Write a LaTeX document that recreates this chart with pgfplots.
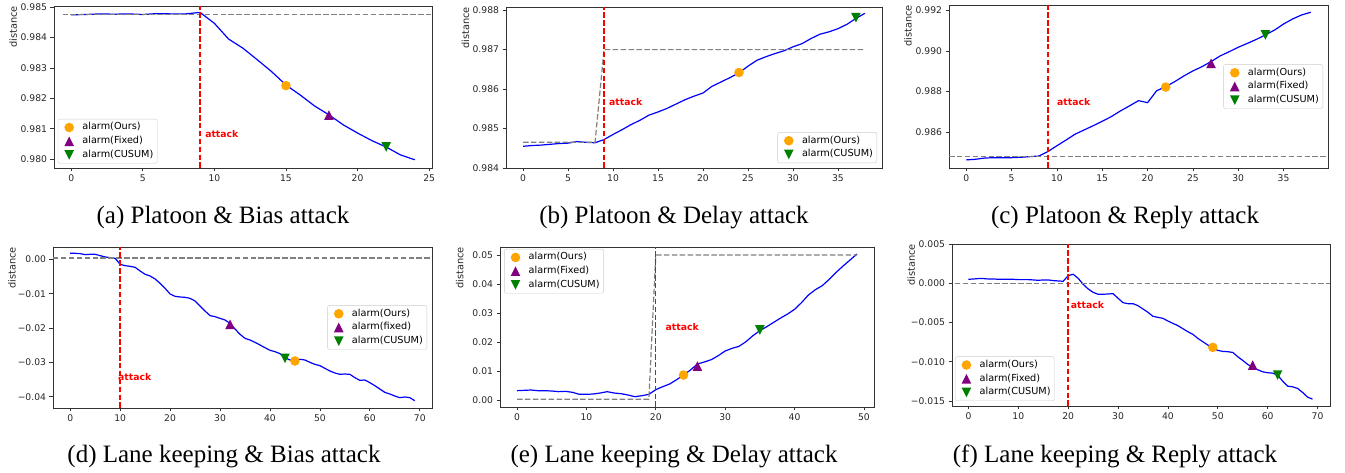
\documentclass[border=0pt]{standalone}
\usepackage{pgfplots}
\pgfplotsset{compat=1.18}
\usepackage{fontspec}
\setmainfont{Liberation Serif}
\newfontfamily\dv{DejaVu Sans}

\definecolor{mplorange}{HTML}{FFA500}
\definecolor{mplpurple}{HTML}{800080}
\definecolor{mplgreen}{HTML}{008000}
\definecolor{mplgray}{HTML}{808080}

\pgfdeclareplotmark{mdot}{\pgfpathcircle{\pgfpointorigin}{\pgfplotmarksize}\pgfusepathqfill}
\pgfdeclareplotmark{mup}{\pgfpathmoveto{\pgfqpoint{0pt}{\pgfplotmarksize}}\pgfpathlineto{\pgfqpoint{-\pgfplotmarksize}{-\pgfplotmarksize}}\pgfpathlineto{\pgfqpoint{\pgfplotmarksize}{-\pgfplotmarksize}}\pgfpathclose\pgfusepathqfill}
\pgfdeclareplotmark{mdown}{\pgfpathmoveto{\pgfqpoint{0pt}{-\pgfplotmarksize}}\pgfpathlineto{\pgfqpoint{-\pgfplotmarksize}{\pgfplotmarksize}}\pgfpathlineto{\pgfqpoint{\pgfplotmarksize}{\pgfplotmarksize}}\pgfpathclose\pgfusepathqfill}

\pgfplotsset{
  panel/.style={
    scale only axis, anchor=south west, clip=true,
    scaled y ticks=false, scaled x ticks=false,
    axis line style={black!80, line width=0.8pt},
    every tick/.style={black!80, line width=0.8pt},
    tick align=outside, major tick length=3.5pt, tick pos=left,
    minor tick num=0,
    ticklabel style={font=\dv\fontsize{9.2}{11}\selectfont, text=black!85},
    ylabel={distance},
    ylabel style={font=\dv\fontsize{9.8}{11}\selectfont, text=black!85, at={(rel axis cs:-0.108,1)}, anchor=east, inner sep=0pt},
    legend cell align=left,
    legend image code/.code={\path (0pt,0pt) (20pt,0pt); \draw[sharp corners,##1] plot coordinates {(9pt,0pt)};},
    legend style={font=\dv\fontsize{9.7}{11}\selectfont, draw=black!20, rounded corners=2pt, fill=white,
      inner xsep=2pt, inner ysep=1.5pt, row sep=0pt,
      nodes={inner sep=2pt, text height=7.3pt, text depth=2.4pt}},
  },
  ours/.style={only marks, mark=mdot, mark size=4.8pt, color=mplorange},
  fixed/.style={only marks, mark=mup, mark size=4.8pt, color=mplpurple},
  cusum/.style={only marks, mark=mdown, mark size=4.8pt, color=mplgreen},
  curve/.style={blue, line width=1.2pt, no marks, forget plot},
  thr/.style={mplgray, line width=1.2pt, dash pattern=on 5.5pt off 2.4pt, no marks, forget plot},
  atk/.style={red, line width=1.4pt, dash pattern=on 5.5pt off 2.4pt, no marks, forget plot},
}
\tikzset{atktext/.style={text=red, font=\dv\bfseries\fontsize{9.3}{11}\selectfont, anchor=west, inner sep=0pt}}

\begin{document}
\begin{tikzpicture}
% (a)
\begin{axis}[panel, at={(54pt,305pt)}, width=378pt, height=162pt,
  xmin=-1.2, xmax=25.2, ymin=0.97971, ymax=0.98504,
  xtick={0,5,10,15,20,25}, xticklabels={0,5,10,15,20,25},
  ytick={0.980,0.981,0.982,0.983,0.984,0.985}, yticklabels={0.980,0.981,0.982,0.983,0.984,0.985},
  legend style={at={(0.01,0.028)}, anchor=south west}]
\addplot[ours] coordinates {(15,0.98242)}; \addlegendentry{alarm(Ours)}
\addplot[fixed] coordinates {(18,0.98145)}; \addlegendentry{alarm(Fixed)}
\addplot[cusum] coordinates {(22,0.98040)}; \addlegendentry{alarm(CUSUM)}
\addplot[curve] coordinates {(0,0.98475)(1,0.98476)(2,0.98478)(3,0.98477)(4,0.98478)(5,0.98476)(6,0.98479)(7,0.98478)(8,0.98478)(9,0.98483)(10,0.98447)(11,0.98395)(12,0.98365)(13,0.98327)(14,0.98288)(15,0.98244)(16,0.98211)(17,0.98175)(18,0.98146)(19,0.98113)(20,0.98086)(21,0.98061)(22,0.98040)(23,0.98014)(24,0.97998)};
\addplot[thr] coordinates {(-0.6,0.98475) (25.2,0.98475)};
\addplot[atk] coordinates {(9,0.97971) (9,0.98504)};
\node[atktext] at (axis cs:9.35,0.98083) {attack};
\end{axis}
% (b)
\begin{axis}[panel, at={(506pt,305pt)}, width=376pt, height=161pt,
  xmin=-1.9, xmax=39.9, ymin=0.984, ymax=0.98808,
  xtick={0,5,10,15,20,25,30,35}, xticklabels={0,5,10,15,20,25,30,35},
  ytick={0.984,0.985,0.986,0.987,0.988}, yticklabels={0.984,0.985,0.986,0.987,0.988},
  legend style={at={(0.987,0.031)}, anchor=south east}]
\addplot[ours] coordinates {(24,0.98642)}; \addlegendentry{alarm(Ours)}
\addplot[cusum] coordinates {(37,0.98781)}; \addlegendentry{alarm(CUSUM)}
\addplot[curve] coordinates {(0,0.98455)(1,0.98457)(2,0.98458)(3,0.98460)(4,0.98462)(5,0.98463)(6,0.98467)(7,0.98465)(8,0.98464)(9,0.98472)(10,0.98485)(11,0.98497)(12,0.98510)(13,0.98521)(14,0.98534)(15,0.98542)(16,0.98551)(17,0.98562)(18,0.98573)(19,0.98582)(20,0.98590)(21,0.98607)(22,0.98618)(23,0.98629)(24,0.98641)(25,0.98658)(26,0.98673)(27,0.98682)(28,0.98690)(29,0.98697)(30,0.98707)(31,0.98715)(32,0.98728)(33,0.98739)(34,0.98745)(35,0.98753)(36,0.98764)(37,0.98779)(38,0.98792)};
\addplot[thr] coordinates {(0,0.98465)(8,0.98465)(9,0.98700)(38,0.98700)};
\addplot[atk] coordinates {(9,0.984) (9,0.98808)};
\node[atktext] at (axis cs:9.55,0.98567) {attack};
\end{axis}
% (c)
\begin{axis}[panel, at={(949pt,305pt)}, width=379pt, height=163pt,
  xmin=-1.9, xmax=39.9, ymin=0.98422, ymax=0.99228,
  xtick={0,5,10,15,20,25,30,35}, xticklabels={0,5,10,15,20,25,30,35},
  ytick={0.986,0.988,0.990,0.992}, yticklabels={0.986,0.988,0.990,0.992},
  legend style={at={(0.987,0.5)}, anchor=east}]
\addplot[ours] coordinates {(22,0.98822)}; \addlegendentry{alarm(Ours)}
\addplot[fixed] coordinates {(27,0.98940)}; \addlegendentry{alarm(Fixed)}
\addplot[cusum] coordinates {(33,0.99080)}; \addlegendentry{alarm(CUSUM)}
\addplot[curve] coordinates {(0,0.98462)(1,0.98465)(2,0.98471)(3,0.98473)(4,0.98473)(5,0.98473)(6,0.98475)(7,0.98478)(8,0.98481)(9,0.98503)(10,0.98532)(11,0.98560)(12,0.98589)(13,0.98610)(14,0.98631)(15,0.98653)(16,0.98676)(17,0.98704)(18,0.98729)(19,0.98755)(20,0.98745)(21,0.98804)(22,0.98824)(23,0.98849)(24,0.98877)(25,0.98902)(26,0.98923)(27,0.98948)(28,0.98976)(29,0.98997)(30,0.99019)(31,0.99038)(32,0.99058)(33,0.99080)(34,0.99104)(35,0.99134)(36,0.99159)(37,0.99179)(38,0.99192)};
\addplot[thr] coordinates {(-1.9,0.98480) (39.9,0.98480)};
\addplot[atk] coordinates {(9,0.98422) (9,0.99228)};
\node[atktext] at (axis cs:10.0,0.98747) {attack};
\end{axis}
% (d)
\begin{axis}[panel, at={(53pt,65pt)}, width=379pt, height=161pt,
  xmin=-3.45, xmax=72.45, ymin=-0.0433, ymax=0.00359,
  xtick={0,10,20,30,40,50,60,70}, xticklabels={0,10,20,30,40,50,60,70},
  ytick={-0.04,-0.03,-0.02,-0.01,0}, yticklabels={−0.04,−0.03,−0.02,−0.01,0.00},
  legend style={at={(0.987,0.5)}, anchor=east}]
\addplot[ours] coordinates {(45,-0.02961)}; \addlegendentry{alarm(Ours)}
\addplot[fixed] coordinates {(32,-0.01893)}; \addlegendentry{alarm(fixed)}
\addplot[cusum] coordinates {(43,-0.02883)}; \addlegendentry{alarm(CUSUM)}
\addplot[curve] coordinates {(0,0.00175)(1,0.00175)(2,0.00165)(3,0.00136)(4,0.00146)(5,0.00146)(6,0.00107)(7,0.00068)(8,0.00049)(9,0.00029)(10,-0.00146)(11,-0.00184)(12,-0.00204)(13,-0.00233)(14,-0.00340)(15,-0.00437)(16,-0.00485)(17,-0.00573)(18,-0.00699)(19,-0.00845)(20,-0.01010)(21,-0.01078)(22,-0.01097)(23,-0.01107)(24,-0.01136)(25,-0.01214)(26,-0.01359)(27,-0.01505)(28,-0.01641)(29,-0.01670)(30,-0.01718)(31,-0.01767)(32,-0.01864)(33,-0.02029)(34,-0.02184)(35,-0.02301)(36,-0.02350)(37,-0.02417)(38,-0.02495)(39,-0.02573)(40,-0.02650)(41,-0.02689)(42,-0.02748)(43,-0.02864)(44,-0.02932)(45,-0.02942)(46,-0.02913)(47,-0.02932)(48,-0.03000)(49,-0.03058)(50,-0.03097)(51,-0.03175)(52,-0.03252)(53,-0.03311)(54,-0.03350)(55,-0.03340)(56,-0.03350)(57,-0.03447)(58,-0.03524)(59,-0.03515)(60,-0.03592)(61,-0.03680)(62,-0.03777)(63,-0.03874)(64,-0.03922)(65,-0.03981)(66,-0.04029)(67,-0.04010)(68,-0.04029)(69,-0.04117)};
\addplot[thr] coordinates {(-3.45,0.00039) (72.45,0.00039)};
\addplot[atk] coordinates {(10,-0.0433) (10,0.00359)};
\node[atktext] at (axis cs:9.55,-0.03417) {attack};
\end{axis}
% (e)
\begin{axis}[panel, at={(500pt,66pt)}, width=374pt, height=160pt,
  xmin=-2.45, xmax=51.45, ymin=-0.00242, ymax=0.0530,
  xtick={0,10,20,30,40,50}, xticklabels={0,10,20,30,40,50},
  ytick={0,0.01,0.02,0.03,0.04,0.05}, yticklabels={0.00,0.01,0.02,0.03,0.04,0.05},
  legend style={at={(0.011,0.988)}, anchor=north west}]
\addplot[ours] coordinates {(24,0.00866)}; \addlegendentry{alarm(Ours)}
\addplot[fixed] coordinates {(26,0.01178)}; \addlegendentry{alarm(Fixed)}
\addplot[cusum] coordinates {(35,0.02425)}; \addlegendentry{alarm(CUSUM)}
\addplot[curve] coordinates {(0,0.00323)(1,0.00335)(2,0.00346)(3,0.00323)(4,0.00323)(5,0.00312)(6,0.00289)(7,0.00300)(8,0.00266)(9,0.00196)(10,0.00196)(11,0.00208)(12,0.00242)(13,0.00289)(14,0.00242)(15,0.00219)(16,0.00173)(17,0.00115)(18,0.00150)(19,0.00196)(20,0.00358)(21,0.00462)(22,0.00554)(23,0.00704)(24,0.00866)(25,0.01039)(26,0.01247)(27,0.01316)(28,0.01397)(29,0.01536)(30,0.01697)(31,0.01790)(32,0.01859)(33,0.02021)(34,0.02229)(35,0.02402)(36,0.02540)(37,0.02691)(38,0.02841)(39,0.02979)(40,0.03141)(41,0.03372)(42,0.03637)(43,0.03822)(44,0.03961)(45,0.04180)(46,0.04423)(47,0.04642)(48,0.04850)(49,0.05058)};
\addplot[thr] coordinates {(0,0.00023)(19,0.00023)(20,0.05020)(49,0.05020)};
\addplot[atk] coordinates {(20,-0.00242) (20,0.0530)};
\node[atktext] at (axis cs:21.4,0.02540) {attack};
\end{axis}
% (f)
\begin{axis}[panel, at={(952pt,67pt)}, width=378pt, height=162pt,
  xmin=-3.3, xmax=72.5, ymin=-0.01564, ymax=0.00501,
  xtick={0,10,20,30,40,50,60,70}, xticklabels={0,10,20,30,40,50,60,70},
  ytick={-0.015,-0.010,-0.005,0,0.005}, yticklabels={−0.015,−0.010,−0.005,0.000,0.005},
  legend style={at={(0.008,0.031)}, anchor=south west}]
\addplot[ours] coordinates {(49,-0.00817)}; \addlegendentry{alarm(Ours)}
\addplot[fixed] coordinates {(57,-0.01043)}; \addlegendentry{alarm(Fixed)}
\addplot[cusum] coordinates {(62,-0.01170)}; \addlegendentry{alarm(CUSUM)}
\addplot[curve] coordinates {(0,0.00051)(1,0.00055)(2,0.00060)(3,0.00060)(4,0.00055)(5,0.00055)(6,0.00051)(7,0.00051)(8,0.00051)(9,0.00051)(10,0.00047)(11,0.00047)(12,0.00047)(13,0.00043)(14,0.00038)(15,0.00043)(16,0.00043)(17,0.00034)(18,0.00030)(19,0.00026)(20,0.00098)(21,0.00115)(22,0.00064)(23,-0.00013)(24,-0.00072)(25,-0.00115)(26,-0.00140)(27,-0.00140)(28,-0.00136)(29,-0.00132)(30,-0.00191)(31,-0.00247)(32,-0.00260)(33,-0.00260)(34,-0.00285)(35,-0.00328)(36,-0.00370)(37,-0.00421)(38,-0.00434)(39,-0.00447)(40,-0.00481)(41,-0.00511)(42,-0.00540)(43,-0.00579)(44,-0.00617)(45,-0.00651)(46,-0.00702)(47,-0.00745)(48,-0.00787)(49,-0.00830)(50,-0.00855)(51,-0.00868)(52,-0.00872)(53,-0.00881)(54,-0.00936)(55,-0.00983)(56,-0.01034)(57,-0.01072)(58,-0.01102)(59,-0.01128)(60,-0.01140)(61,-0.01145)(62,-0.01170)(63,-0.01247)(64,-0.01311)(65,-0.01319)(66,-0.01340)(67,-0.01391)(68,-0.01451)(69,-0.01477)};
\addplot[thr] coordinates {(-2.7,0) (72.5,0)};
\addplot[atk] coordinates {(20,-0.01564) (20,0.00501)};
\node[atktext] at (axis cs:20.5,-0.00277) {attack};
\end{axis}
% captions
\node[font=\fontsize{25}{30}\selectfont, anchor=base] at (223pt,249pt) {(a) Platoon \& Bias attack};
\node[font=\fontsize{25}{30}\selectfont, anchor=base] at (674pt,249pt) {(b) Platoon \& Delay attack};
\node[font=\fontsize{25}{30}\selectfont, anchor=base] at (1125pt,249pt) {(c) Platoon \& Reply attack};
\node[font=\fontsize{25}{30}\selectfont, anchor=base] at (224pt,10pt) {(d) Lane keeping \& Bias attack};
\node[font=\fontsize{25}{30}\selectfont, anchor=base] at (674pt,10pt) {(e) Lane keeping \& Delay attack};
\node[font=\fontsize{25}{30}\selectfont, anchor=base] at (1115pt,10pt) {(f) Lane keeping \& Reply attack};
\pgfresetboundingbox
\useasboundingbox (0pt,0pt) rectangle (1345pt,473pt);
\end{tikzpicture}
\end{document}
